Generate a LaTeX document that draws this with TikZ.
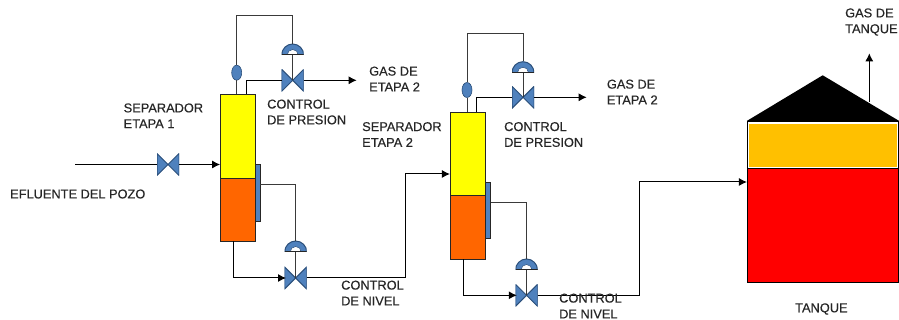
\documentclass[tikz,border=0pt]{standalone}
\usepackage{fontspec}
\setmainfont{Liberation Sans}
\newfontfamily\lblfont[FakeBold=0.45]{Liberation Sans}
\usepackage{xcolor}
\usepackage{tikz}
\usetikzlibrary{arrows.meta,calc,shapes.geometric}
\definecolor{valveblue}{HTML}{4F81BD}
\definecolor{valveedge}{HTML}{2B4F7A}
\definecolor{sepyellow}{HTML}{FFFF00}
\definecolor{seporange}{HTML}{FF6600}
\definecolor{tankamber}{HTML}{FFC000}
\definecolor{tankred}{HTML}{FF0000}
\definecolor{linegray}{HTML}{3A3A3A}
\tikzset{
  lbl/.style={font=\lblfont\fontsize{12.8}{15.8}\selectfont, text=black!85, align=left, anchor=west, inner sep=0pt},
  ln/.style={line width=1pt, draw=linegray},
  lnb/.style={line width=1pt, draw=black},
  ar/.style={lnb, -{Latex[length=8pt,width=8pt]}},
  vessel/.style={draw=black!85, line width=.8pt, inner sep=0pt, minimum width=35pt},
  gauge/.style={draw=black!85, fill=valveblue, line width=.8pt, inner sep=0pt, minimum width=4.6pt},
  sensor/.style={ellipse, draw=valveedge, fill=valveblue, line width=.6pt, inner sep=0pt, minimum width=10pt, minimum height=15pt},
  valve/.style={inner sep=0pt, minimum size=22pt, path picture={
    \fill[valveblue, draw=valveedge, line width=1pt] (path picture bounding box.south west) -- (path picture bounding box.north east) -- (path picture bounding box.south east) -- (path picture bounding box.north west) -- cycle;}},
  actuator/.style={inner sep=0pt, minimum width=22pt, minimum height=11pt, path picture={
    \fill[valveblue, draw=valveedge, line width=1pt] (path picture bounding box.south west) arc[start angle=180, end angle=0, radius=11pt] -- cycle;
    \fill[white, draw=valveedge, line width=.5pt] ($(path picture bounding box.south)+(-5.5pt,0)$) arc[start angle=180, end angle=0, radius=5.5pt] -- cycle;
    \draw[black!85, line width=1.6pt] (path picture bounding box.south west) -- (path picture bounding box.south east);}},
}
\begin{document}
\begin{tikzpicture}[x=1pt,y=-1pt]
  \useasboundingbox (0,0) rectangle (899,320);
  % primer separador
  \node[vessel, fill=sepyellow, minimum height=84pt] (gas1) at (238,136) {};
  \node[vessel, fill=seporange, minimum height=63pt] (liq1) at (238,209.5) {};
  \node[gauge, minimum height=57pt] (lg1) at (257.7,192.5) {};
  \node[sensor] (pt1) at (236.7,72.7) {};
  \node[valve] (pv1) at (292.7,80.3) {};
  \node[actuator] (pa1) at (292.7,49.5) {};
  \node[valve] (iv1) at (168,164.5) {};
  \node[valve] (lv1) at (295.7,278) {};
  \node[actuator] (la1) at (295.7,246.5) {};
  \coordinate (feed) at (75,164.5);
  \coordinate (gout1) at (356.7,80.3);
  \coordinate (gtap1) at (246,94);
  \coordinate (ptop1) at (236.7,16);
  \coordinate (ltap1) at (233.3,241);
  % segundo separador
  \node[vessel, fill=sepyellow, minimum height=83.7pt] (gas2) at (467.8,153.8) {};
  \node[vessel, fill=seporange, minimum height=63.6pt] (liq2) at (467.8,227.5) {};
  \node[gauge, minimum height=56pt] (lg2) at (488,210.3) {};
  \node[sensor] (pt2) at (467,90) {};
  \node[valve] (pv2) at (523,97.3) {};
  \node[actuator] (pa2) at (523,67.2) {};
  \node[valve] (lv2) at (526.5,295.3) {};
  \node[actuator] (la2) at (526.5,264.5) {};
  \coordinate (gout2) at (586.7,97.3);
  \coordinate (gtap2) at (476.7,112);
  \coordinate (ptop2) at (467,34);
  \coordinate (ltap2) at (463.7,259.3);
  % tanque
  \node[draw=black, fill=tankred, line width=.8pt, inner sep=0pt, minimum width=151.4pt, minimum height=113.3pt] (tliq) at (823,225.3) {};
  \node[draw=black, fill=white, line width=.8pt, inner sep=0pt, minimum width=151.4pt, minimum height=47.4pt] (tbox) at (823,145) {};
  \node[fill=tankamber, inner sep=0pt, minimum width=148.6pt, minimum height=42.7pt] (tgas) at (823,145.7) {};
  \fill[black] (tbox.north west) -- (822.7,75.3) -- (tbox.north east) -- cycle;
  \coordinate (troof) at (869.3,102);
  \coordinate (tout) at (869.3,53.3);
  % lineas
  \draw[lnb] (feed) -- (iv1.west);
  \draw[ar] (iv1.east) -- (iv1 -| gas1.west);
  \draw[ln] (gas1.north -| pt1) -- (pt1);
  \draw[ln] (pt1) -- (ptop1) -| (pa1.north);
  \draw[ln] (pa1.south) -- (pv1.center);
  \draw[lnb] (gtap1) |- (pv1.west);
  \draw[ar] (pv1.east) -- (gout1);
  \draw[ln] (lg1.east |- 0,185) -| (la1.north);
  \draw[ln] (la1.south) -- (lv1.center);
  \draw[ar] (ltap1) |- ($(lv1.west)+(1.5,0)$);
  \draw[ar] (lv1.east) -- (405,278) |- (gas2.west |- 0,174);
  \draw[ln] (gas2.north -| pt2) -- (pt2);
  \draw[ln] (pt2) -- (ptop2) -| (pa2.north);
  \draw[ln] (pa2.south) -- (pv2.center);
  \draw[lnb] (gtap2) |- (pv2.west);
  \draw[ar] (pv2.east) -- (gout2);
  \draw[ln] (lg2.east |- 0,202.7) -| (la2.north);
  \draw[ln] (la2.south) -- (lv2.center);
  \draw[ar] (ltap2) |- ($(lv2.west)+(1.5,0)$);
  \draw[ar] (lv2.east) -- (639.3,295.3) |- (tliq.west |- 0,182);
  \draw[ar] (troof) -- (tout);
  % textos
  \node[lbl] (t1) at (123.5,115.8) {SEPARADOR\\ETAPA 1};
  \node[lbl] (t2) at (267,112) {CONTROL\\DE PRESION};
  \node[lbl] (t3) at (369,79) {GAS DE\\ETAPA 2};
  \node[lbl] (t4) at (10,194) {EFLUENTE DEL POZO};
  \node[lbl] (t5) at (341,293) {CONTROL\\DE NIVEL};
  \node[lbl] (t6) at (362,134.5) {SEPARADOR\\ETAPA 2};
  \node[lbl] (t7) at (504,134.5) {CONTROL\\DE PRESION};
  \node[lbl] (t8) at (606.7,92) {GAS DE\\ETAPA 2};
  \node[lbl] (t9) at (559,306) {CONTROL\\DE NIVEL};
  \node[lbl] (t10) at (845,22) {GAS DE\\TANQUE};
  \node[lbl] (t11) at (795,309) {TANQUE};
\end{tikzpicture}
\end{document}
